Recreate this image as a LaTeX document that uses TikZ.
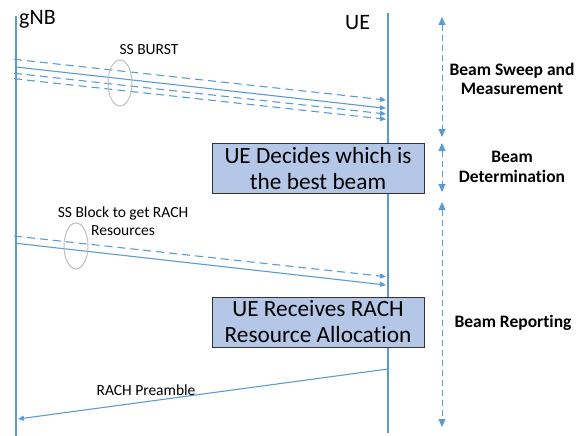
\documentclass[tikz,border=0pt]{standalone}
\usepackage{fontspec}
\setmainfont{Carlito}[Ligatures={NoCommon}]
\usetikzlibrary{arrows.meta}
\definecolor{lineblue}{HTML}{5B9BD5}
\definecolor{boxfill}{HTML}{B4C7E7}
\definecolor{ringgray}{HTML}{BFBFBF}
\begin{document}
\begin{tikzpicture}[x=1pt,y=-1pt,
  lifeline/.style={draw=lineblue,line width=2.4pt},
  msg/.style={draw=lineblue,line width=1.1pt,-{Triangle[length=6pt,width=5pt]}},
  dmsg/.style={msg,dash pattern=on 8pt off 5pt},
  phase/.style={draw=lineblue,line width=0.9pt,dash pattern=on 6pt off 4pt,{Triangle[length=8pt,width=7pt]}-{Triangle[length=8pt,width=7pt]}},
  ring/.style={draw=ringgray,line width=1pt},
  actbox/.style={draw=black!80,fill=boxfill,line width=1pt,minimum width=212pt,minimum height=50pt,inner sep=0pt,align=center,font=\fontsize{23.3}{26}\selectfont},
  entity/.style={inner sep=0pt,anchor=base west,font=\fontsize{22}{26}\selectfont},
  phaselabel/.style={inner sep=0pt,align=center,font=\bfseries\fontsize{17.5}{19.5}\selectfont},
  msglabel/.style={inner sep=0pt,align=center,font=\fontsize{15.5}{18.5}\selectfont}
]
\useasboundingbox (0,0) rectangle (586,436);

% lifelines
\coordinate (gTop) at (16,16);
\coordinate (gBot) at (16,436);
\coordinate (uTop) at (388,13);
\coordinate (uBot) at (388,433);
\draw[lifeline] (gTop) -- (gBot);
\draw[lifeline] (uTop) -- (uBot);
\node[entity] (gnb) at (19,24.5) {gNB};
\node[entity] (ue) at (345,30) {UE};

% SS burst
\coordinate (a1) at (14,59.3);  \coordinate (a2) at (386,100);
\coordinate (b1) at (16,67);    \coordinate (b2) at (386,108.3);
\coordinate (c1) at (14,73.3);  \coordinate (c2) at (386,114);
\coordinate (d1) at (14,78.7);  \coordinate (d2) at (386,119.3);
\draw[dmsg] (a1) -- (a2);
\draw[msg]  (b1) -- (b2);
\draw[dmsg] (c1) -- (c2);
\draw[dmsg] (d1) -- (d2);
\draw[ring] (120,83) ellipse [x radius=12pt, y radius=23pt];
\node[msglabel,anchor=base] (ssb) at (149,55) {SS BURST};

% SS block
\coordinate (e1) at (14,236);   \coordinate (e2) at (386,276.7);
\coordinate (f1) at (16,243.3); \coordinate (f2) at (386,285);
\draw[dmsg] (e1) -- (e2);
\draw[msg]  (f1) -- (f2);
\draw[ring] (76,246) ellipse [x radius=12pt, y radius=23pt];
\node[msglabel] (ssblk) at (123,221) {SS Block to get RACH\\Resources};

% RACH preamble
\coordinate (r1) at (388,369);
\coordinate (r2) at (18,419);
\draw[msg] (r1) -- (r2);
\node[msglabel,anchor=base] (rach) at (146,395) {RACH Preamble};

% boxes
\node[actbox] (dec) at (318,168) {UE Decides which is\\the best beam};
\node[actbox] (rcv) at (318,322) {UE Receives RACH\\Resource Allocation};

% phases
\coordinate (p1a) at (442,17);  \coordinate (p1b) at (442,137);
\coordinate (p2a) at (442,143); \coordinate (p2b) at (442,192);
\coordinate (p3a) at (442,202); \coordinate (p3b) at (442,427);
\draw[phase] (p1a) -- (p1b);
\draw[phase] (p2a) -- (p2b);
\draw[phase] (p3a) -- (p3b);
\node[phaselabel] (ph1) at (512,79) {Beam Sweep and\\Measurement};
\node[phaselabel] (ph2) at (512,167) {Beam\\Determination};
\node[phaselabel,anchor=base] (ph3) at (513,327.7) {Beam Reporting};
\end{tikzpicture}
\end{document}
